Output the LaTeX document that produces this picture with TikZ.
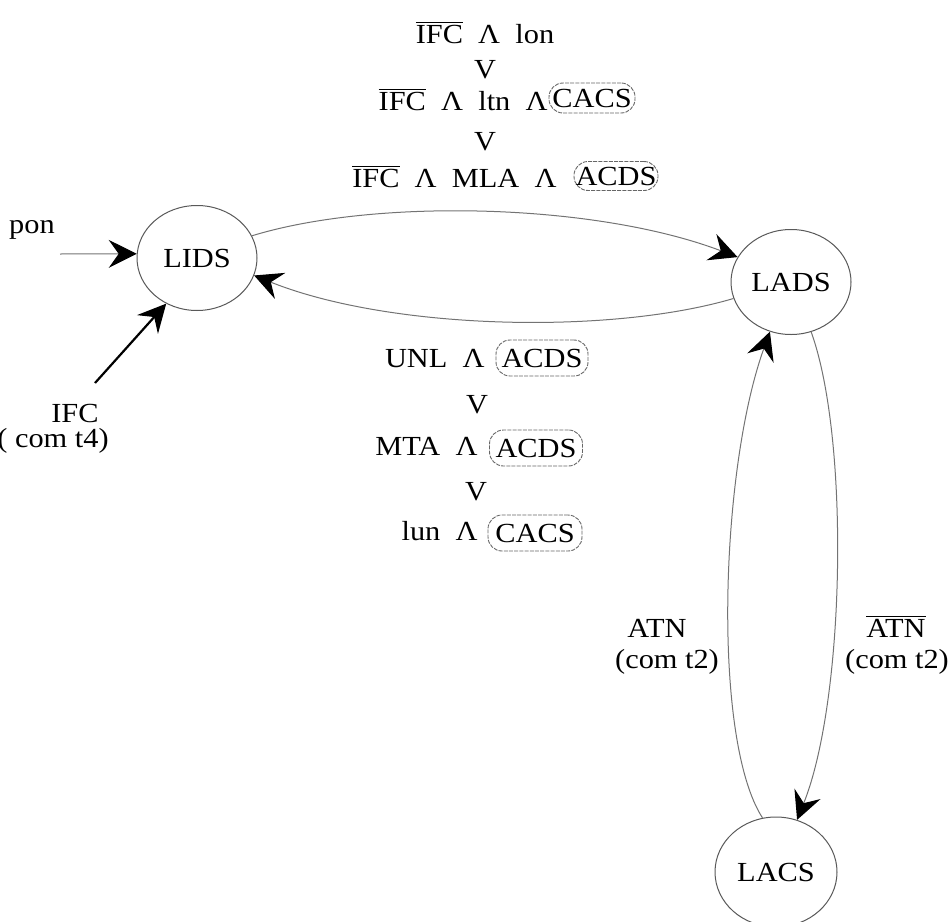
\documentclass[tikz,border=0pt]{standalone}
\usepackage{fontspec}
\setmainfont[FakeStretch=1.1]{Liberation Serif}
\usetikzlibrary{arrows.meta,shapes.geometric}
% negated signal name
\newcommand\ovl[1]{$\overline{\mbox{#1}}$}
% spacing between the words of a condition
\newcommand\gapw{\hspace{0.55em}}
\begin{document}
\begin{tikzpicture}[x=0.5pt,y=-0.5pt,
  every node/.style={font=\fontsize{13.8}{16}\selectfont, inner sep=0pt},
  state/.style={draw=black!65, line width=0.5pt, ellipse,
                minimum width=60pt, minimum height=52.5pt},
  term/.style={draw=black!60, line width=0.45pt, rounded corners=7pt,
               dash pattern=on 2pt off 0.6pt},
  arc/.style={draw=black!55, line width=0.5pt},
  >={Stealth[length=14pt,width=14pt,inset=5pt,black]},
  lbl/.style={anchor=base}
]
\path[use as bounding box] (0,0) rectangle (952,921);

% states
\node[state] (LIDS) at (197,258) {LIDS};
\node[state] (LADS) at (791,282) {LADS};
\node[state, minimum width=61pt, minimum height=55pt] (LACS) at (776,872) {LACS};

% transition LIDS -> LADS
\draw[arc,->] (LIDS.22) .. controls (375,198) and (595,203) .. (LADS.155);
% transition LADS -> LIDS
\draw[arc,->] (LADS.196) .. controls (610,335) and (390,330) .. (LIDS.343);
% transition LACS -> LADS
\draw[arc,->] (LACS.104) .. controls (712,740) and (720,470) .. (LADS.247);
% transition LADS -> LACS
\draw[arc,->] (LADS.292) .. controls (850,440) and (845,700) .. (LACS.68);

% initial transition
\node[lbl] (pon) at (32,233) {pon};
\coordinate (ponTail) at (60,254);
\draw[arc,->] (ponTail) -- (LIDS.176);

% reset transition
\node[lbl] (ifc) at (75,422) {IFC};
\node[lbl] (ifct) at (53,447) {( com t4)};
\coordinate (ifcTail) at (95,383);
\draw[black, line width=1.1pt, ->] (ifcTail) -- (LIDS.236);

% condition LIDS -> LADS
\node[lbl] (c1) at (485,43) {\ovl{IFC}\gapw Λ\gapw lon};
\node[lbl] (c2) at (485,78) {V};
\node[anchor=base east] (c3) at (548,110) {\ovl{IFC}\gapw Λ\gapw ltn\gapw Λ};
\node[term, minimum width=43pt, minimum height=15pt] (c3t) at (592,98) {CACS};
\node[lbl] (c4) at (485,150) {V};
\node[anchor=base east] (c5) at (557,187) {\ovl{IFC}\gapw Λ\gapw MLA\gapw Λ};
\node[term, minimum width=42pt, minimum height=14.5pt] (c5t) at (616,176) {ACDS};

% condition LADS -> LIDS
\node[anchor=base east] (d1) at (485,367) {UNL\gapw Λ};
\node[term, minimum width=46pt, minimum height=18pt] (d1t) at (542,358) {ACDS};
\node[lbl] (d2) at (477,413) {V};
\node[anchor=base east] (d3) at (478,455) {MTA\gapw Λ};
\node[term, minimum width=46.5pt, minimum height=18pt] (d3t) at (536,448) {ACDS};
\node[lbl] (d4) at (476,500) {V};
\node[anchor=base east] (d5) at (478,540) {lun\gapw Λ};
\node[term, minimum width=47pt, minimum height=18pt] (d5t) at (535,533) {CACS};

% conditions between LADS and LACS
\node[lbl] (e1) at (657,637) {ATN};
\node[lbl] (e2) at (667,668) {(com t2)};
\node[lbl] (f1) at (896,637) {\ovl{ATN}};
\node[lbl] (f2) at (897,668) {(com t2)};
\end{tikzpicture}
\end{document}
